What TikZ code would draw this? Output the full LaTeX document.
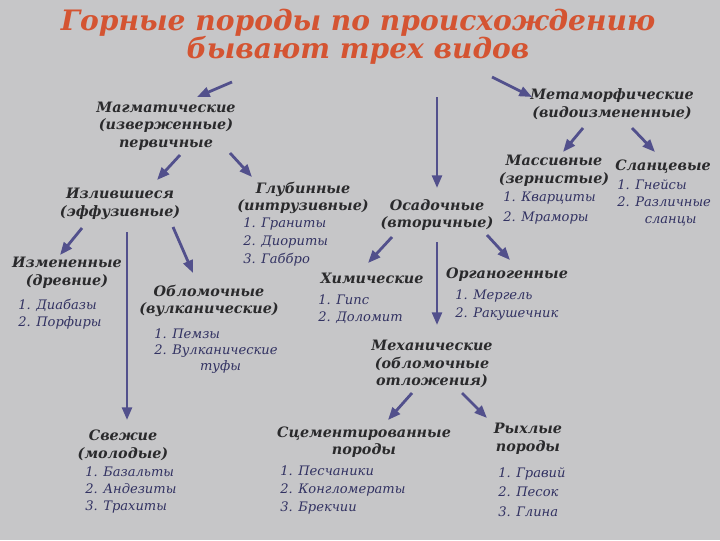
\documentclass[tikz,border=0pt]{standalone}
\usepackage{fontspec}
\setmainfont{DejaVu Serif}
\usetikzlibrary{arrows.meta,calc}

\definecolor{board}{RGB}{198,198,200}
\definecolor{titlered}{RGB}{212,84,50}
\definecolor{headink}{RGB}{42,42,44}
\definecolor{listink}{RGB}{50,50,98}
\definecolor{arrowink}{RGB}{82,80,140}

\tikzset{
  rockkind/.style={align=center, text=headink, inner sep=0pt,
    font=\fontsize{10.2}{12.5}\selectfont\bfseries\itshape},
  rocklist/.style={align=left, anchor=west, text=listink, inner sep=0pt,
    font=\fontsize{9.3}{#1}\selectfont\itshape},
  rocklist/.default=12.5pt,
  arr/.style={draw=arrowink, line width=2pt, -{Triangle[length=9pt,width=7pt]}}
}

\begin{document}
\begin{tikzpicture}[x=0.025cm, y=-0.025cm]

        \fill[board] (0,0) rectangle (720,540);

        \node[align=center, text=titlered, inner sep=0pt,
              font=\fontsize{20}{20}\selectfont\bfseries\itshape] (title) at (358,37)
              {Горные породы по происхождению\\бывают трех видов};

        \begin{scope}[every node/.style={rockkind}]
          \node (magm)   at (166,126) {Магматические\\(изверженные)\\первичные};
          \node (metam)  at (612,104) {Метаморфические\\(видоизмененные)};
          \node (osad)   at (437,215) {Осадочные\\(вторичные)};
          \node (effuz)  at (120,204) {Излившиеся\\(эффузивные)};
          \node (glub)   at (303,198) {Глубинные\\(интрузивные)};
          \node (massiv) at (554,171) {Массивные\\(зернистые)};
          \node (slanc)  at (663,167) {Сланцевые};
          \node (izmen)  at (67,273)  {Измененные\\(древние)};
          \node (oblom)  at (209,301) {Обломочные\\(вулканические)};
          \node (chem)   at (372,278) {Химические};
          \node (organ)  at (507,275) {Органогенные};
          \node (mech)   at (432,364) {Механические\\(обломочные\\отложения)};
          \node (svezh)  at (123,445) {Свежие\\(молодые)};
          \node (cement) at (364,442) {Сцементированные\\породы};
          \node (ryhl)   at (528,439) {Рыхлые\\породы};
        \end{scope}

        % lists of rocks under each kind
        \node[rocklist]        (glubL)   at (243,242) {1. Граниты\\2. Диориты\\3. Габбро};
        \node[rocklist=14pt]   (massivL) at (503,208) {1. Кварциты\\2. Мраморы};
        \node[rocklist=12pt]   (slancL)  at (617,203) {1. Гнейсы\\2. Различные\\\hspace*{2.1em}сланцы};
        \node[rocklist]        (izmenL)  at (18,314)  {1. Диабазы\\2. Порфиры};
        \node[rocklist=11.5pt] (oblomL)  at (154,351) {1. Пемзы\\2. Вулканические\\\hspace*{3.5em}туфы};
        \node[rocklist]        (chemL)   at (318,309) {1. Гипс\\2. Доломит};
        \node[rocklist]        (organL)  at (455,305) {1. Мергель\\2. Ракушечник};
        \node[rocklist=12pt]   (svezhL)  at (85,490)  {1. Базальты\\2. Андезиты\\3. Трахиты};
        \node[rocklist]        (cementL) at (280,490) {1. Песчаники\\2. Конгломераты\\3. Брекчии};
        \node[rocklist=14pt]   (ryhlL)   at (498,492) {1. Гравий\\2. Песок\\3. Глина};

        \draw[arr] ($(title)+(-126,45)$) -- ($(magm)+(31,-29)$);
        \draw[arr] ($(title)+(134,40)$)  -- ($(metam)+(-80,-7)$);
        \draw[arr] ($(title)+(79,60)$)   -- ($(osad)+(0,-27)$);

        \draw[arr] ($(magm)+(14,29)$)  -- ($(effuz)+(37,-24)$);
        \draw[arr] ($(magm)+(64,27)$)  -- ($(glub)+(-51,-21)$);
        \draw[arr] ($(metam)+(-29,24)$) -- ($(massiv)+(9,-19)$);
        \draw[arr] ($(metam)+(20,24)$)  -- ($(slanc)+(-8,-15)$);

        \draw[arr] ($(effuz)+(-38,24)$) -- ($(izmen)+(-7,-18)$);
        \draw[arr] ($(effuz)+(7,28)$)   -- ($(svezh)+(4,-25)$);
        \draw[arr] ($(effuz)+(53,23)$)  -- ($(oblom)+(-16,-28)$);

        \draw[arr] ($(osad)+(-45,22)$) -- ($(chem)+(-4,-15)$);
        \draw[arr] ($(osad)+(50,20)$)  -- ($(organ)+(3,-15)$);
        \draw[arr] ($(osad)+(0,27)$)   -- ($(mech)+(5,-39)$);

        \draw[arr] ($(mech)+(-20,29)$) -- ($(cement)+(24,-22)$);
        \draw[arr] ($(mech)+(30,29)$)  -- ($(ryhl)+(-41,-21)$);

      \end{tikzpicture}
\end{document}
